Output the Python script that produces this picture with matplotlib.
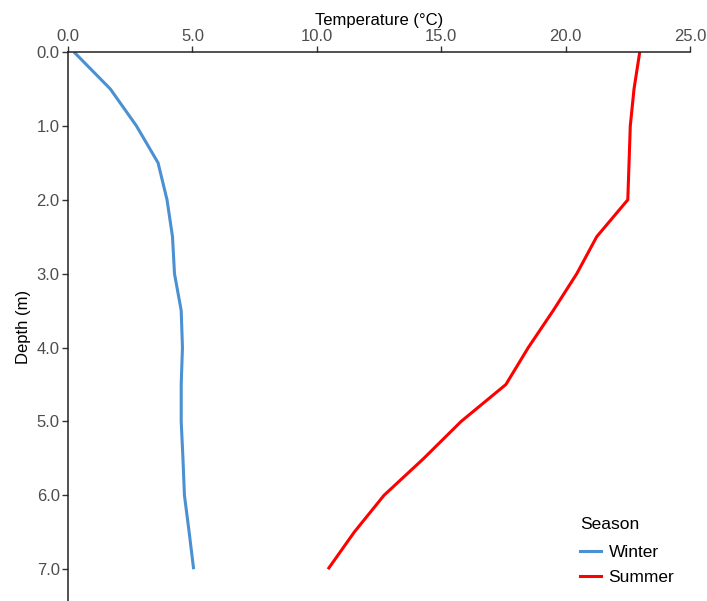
import matplotlib
matplotlib.use("Agg")
import matplotlib.pyplot as plt
from matplotlib.lines import Line2D

plt.rcParams['font.family'] = ['Liberation Sans', 'DejaVu Sans']

# depth profiles (m) and temperature (°C)
depth = [0.0, 0.5, 1.0, 1.5, 2.0, 2.5, 3.0, 3.5, 4.0, 4.5, 5.0, 5.5, 6.0, 6.5, 7.0]
temp_winter = [0.24, 1.7, 2.75, 3.62, 3.98, 4.2, 4.28, 4.55, 4.6, 4.55, 4.55, 4.62, 4.68, 4.87, 5.05]
temp_summer = [22.98, 22.75, 22.6, 22.55, 22.5, 21.25, 20.45, 19.5, 18.5, 17.6, 15.8, 14.3, 12.7, 11.5, 10.45]

seasons = ["Winter", "Summer"]
colors = {"Winter": "#4a90d2", "Summer": "#ff0000"}
xticks = [0, 5, 10, 15, 20, 25]
yticks = [0, 1, 2, 3, 4, 5, 6, 7]

fig = plt.figure(figsize=(7.07, 6.01), dpi=100)
ax = fig.add_axes([68/707, 0.0, (690-68)/707, (601-52)/601])

ax.plot(temp_winter, depth, color=colors["Winter"], lw=2.2, solid_capstyle='butt')
ax.plot(temp_summer, depth, color=colors["Summer"], lw=2.2, solid_capstyle='butt')

ax.set_xlim(0, 25)
ax.set_ylim(7.43, 0)
ax.xaxis.tick_top()
ax.xaxis.set_label_position('top')
ax.set_xticks(xticks)
ax.set_xticklabels([f"{v:.1f}" for v in xticks])
ax.set_yticks(yticks)
ax.set_yticklabels([f"{v:.1f}" for v in yticks])

for s in ['right', 'bottom']:
    ax.spines[s].set_visible(False)
for s in ['left', 'top']:
    ax.spines[s].set_color('#222222')
    ax.spines[s].set_linewidth(1.1)

ax.tick_params(axis='both', length=4, width=1.0, color='#333333',
               labelcolor='#4d4d4d', labelsize=12, pad=2)
ax.set_xlabel('Temperature (°C)', fontsize=12, color='black', labelpad=3)
ax.set_ylabel('Depth (m)', fontsize=12, color='black', labelpad=4)

handles = [Line2D([0], [0], color=colors[s], lw=2.2) for s in seasons]
leg = fig.legend(handles, seasons, title='Season', loc='upper left',
                 bbox_to_anchor=(580/707, 1 - 517/601), bbox_transform=fig.transFigure,
                 frameon=False, fontsize=12.5, title_fontsize=12.5,
                 borderpad=0, borderaxespad=0,
                 handlelength=1.2, handletextpad=0.45, labelspacing=0.6)
leg._legend_box.align = 'left'
leg._legend_box.sep = 9

fig.savefig('out.png', dpi=100)
